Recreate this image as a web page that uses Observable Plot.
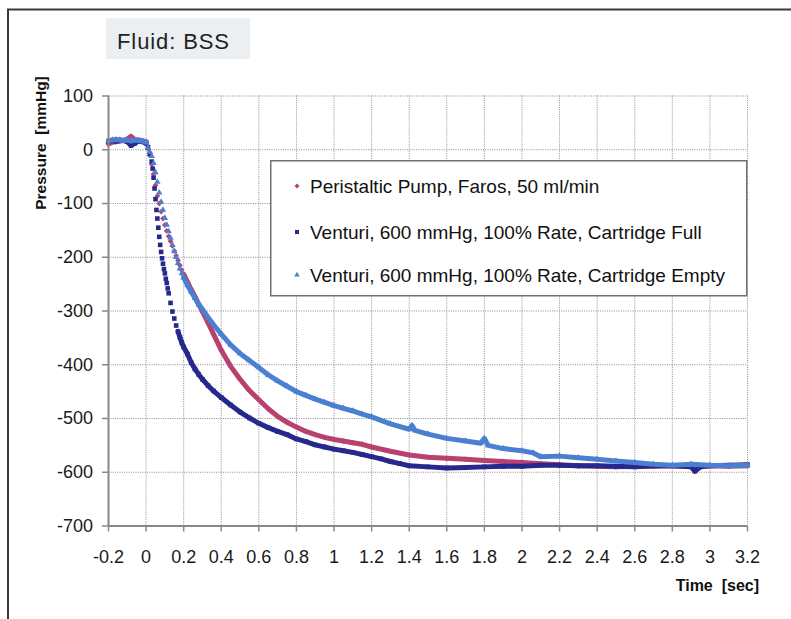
<!DOCTYPE html>
<html><head><meta charset="utf-8">
<script src="https://cdn.jsdelivr.net/npm/d3@7"></script>
<script src="https://cdn.jsdelivr.net/npm/@observablehq/plot@0.6"></script>
<style>
body{margin:0;background:#fff}
#wrap{position:relative;width:791px;height:619px;overflow:hidden;font-family:"Liberation Sans",Arial,sans-serif}
#wrap svg{position:absolute;left:0;top:0}
</style>
</head><body><div id="wrap"></div>
<script>
const xTicks = [-0.2,0,0.2,0.4,0.6,0.8,1,1.2,1.4,1.6,1.8,2,2.2,2.4,2.6,2.8,3,3.2];
const yTicks = [100,0,-100,-200,-300,-400,-500,-600,-700];
const titleText = "Fluid: BSS";
const xLabel = "Time  [sec]";
const yLabel = "Pressure  [mmHg]";
const seriesNames = ["Peristaltic Pump, Faros, 50 ml/min","Venturi, 600 mmHg, 100% Rate, Cartridge Full","Venturi, 600 mmHg, 100% Rate, Cartridge Empty"];

const periT = [-0.2,-0.18,-0.16,-0.14,-0.12,-0.1,-0.08,-0.06,-0.04,-0.02,0,0.01,0.02,0.03,0.04,0.05,0.06,0.07,0.08,0.09,0.1,0.11,0.12,0.13,0.14,0.15,0.16,0.17,0.18,0.19,0.2,0.22,0.24,0.26,0.28,0.3,0.33,0.36,0.4,0.45,0.5,0.55,0.6,0.65,0.7,0.75,0.8,0.85,0.9,0.95,1,1.05,1.1,1.15,1.2,1.3,1.4,1.5,1.6,1.7,1.8,1.9,2,2.1,2.2,2.3,2.4,2.5,2.6,2.7,2.8,2.9,3,3.1,3.2];
const periP = [11,14,15,16,17,20,25,19,18,17,15,2,-10,-27,-45,-66,-86,-100,-115,-128,-140,-151,-161,-170,-179,-188,-197,-206,-215,-224,-232,-246,-260,-273,-287,-301,-322,-344,-373,-403,-427,-448,-465,-482,-496,-507,-516,-524,-530,-535,-539,-542,-545,-548,-553,-561,-568,-572,-574,-576,-578,-580,-582,-584,-586,-588,-589,-590,-589,-589,-588,-589,-588,-589,-588];

const fullT = [-0.2,-0.18,-0.16,-0.14,-0.12,-0.1,-0.08,-0.06,-0.04,-0.02,0,0.01,0.02,0.03,0.035,0.04,0.045,0.05,0.055,0.06,0.065,0.07,0.075,0.08,0.085,0.09,0.095,0.1,0.105,0.11,0.115,0.12,0.13,0.14,0.15,0.16,0.17,0.18,0.19,0.2,0.22,0.24,0.26,0.28,0.3,0.33,0.36,0.4,0.45,0.5,0.55,0.6,0.65,0.7,0.75,0.8,0.85,0.9,0.95,1,1.05,1.1,1.15,1.2,1.25,1.3,1.35,1.4,1.5,1.6,1.7,1.8,1.9,2,2.1,2.2,2.3,2.4,2.5,2.6,2.7,2.8,2.9,2.92,2.95,3,3.1,3.2];
const fullP = [16,17,16,18,17,15,8,12,16,15,12,5,-8,-22,-35,-52,-72,-92,-112,-128,-145,-162,-177,-190,-202,-212,-222,-230,-240,-248,-258,-267,-285,-301,-314,-327,-338,-349,-359,-367,-380,-396,-408,-418,-427,-439,-449,-461,-475,-488,-499,-509,-517,-524,-530,-538,-543,-549,-553,-557,-560,-563,-567,-571,-575,-580,-584,-588,-590,-592,-591,-590,-589,-589,-587,-587,-588,-588,-589,-590,-588,-588,-590,-598,-590,-588,-587,-586];

const emptyT = [-0.2,-0.18,-0.16,-0.14,-0.12,-0.1,-0.08,-0.06,-0.04,-0.02,0,0.01,0.02,0.03,0.04,0.05,0.06,0.07,0.08,0.09,0.1,0.11,0.12,0.13,0.14,0.15,0.16,0.17,0.18,0.19,0.2,0.22,0.24,0.26,0.28,0.3,0.33,0.36,0.4,0.45,0.5,0.55,0.6,0.65,0.7,0.75,0.8,0.85,0.9,0.95,1,1.05,1.1,1.15,1.2,1.3,1.4,1.415,1.43,1.5,1.6,1.7,1.78,1.8,1.82,1.9,2,2.06,2.1,2.2,2.3,2.4,2.5,2.6,2.7,2.8,2.9,3,3.1,3.2];
const emptyP = [17,18,19,18,17,18,16,18,17,16,14,4,-4,-12,-25,-42,-60,-80,-97,-112,-127,-140,-152,-164,-177,-189,-200,-211,-221,-230,-238,-252,-264,-276,-288,-297,-312,-326,-343,-363,-379,-392,-405,-419,-430,-440,-450,-457,-464,-470,-476,-481,-486,-492,-497,-510,-520,-513,-522,-529,-537,-542,-546,-537,-550,-556,-560,-564,-571,-570,-573,-576,-579,-582,-585,-587,-585,-587,-588,-587];

const series = [
  {name: seriesNames[0], t: periT, p: periP, color: "#b9416f", symbol: "diamond2", r: 2.6, lineFrom: 0.2},
  {name: seriesNames[1], t: fullT, p: fullP, color: "#27288c", symbol: "square", r: 2.6, lineFrom: 0.17},
  {name: seriesNames[2], t: emptyT, p: emptyP, color: "#4b7fd1", symbol: "triangle", r: 2.4, lineFrom: 0.2}
];

const rowsOf = s => s.t.map((t, i) => ({t, p: s.p[i], seg: t <= 0.005 ? "a" : (t >= s.lineFrom ? "b" : null)}));

const seriesMarks = series.flatMap(s => {
  const rows = rowsOf(s);
  return [
    Plot.line(rows.filter(d => d.seg), {x: "t", y: "p", z: "seg", stroke: s.color, strokeWidth: 5, strokeLinejoin: "round"}),
    Plot.dot(rows, {x: "t", y: "p", symbol: s.symbol, fill: s.color, stroke: "none", r: s.r})
  ];
});

const gridStyle = {stroke: "#8c8c8c", strokeOpacity: 1, strokeWidth: 1, strokeDasharray: "1,1.3"};

const chart = Plot.plot({
  width: 791, height: 619,
  marginLeft: 108, marginRight: 44, marginTop: 95.5, marginBottom: 93.5,
  style: {fontFamily: "'Liberation Sans', Arial, sans-serif", background: "transparent"},
  x: {domain: [-0.2, 3.2]},
  y: {domain: [-700, 100]},
  marks: [
    Plot.gridX(xTicks, gridStyle),
    Plot.gridY(yTicks, gridStyle),
    ...seriesMarks,
    Plot.ruleX([-0.2], {stroke: "#888", strokeWidth: 2}),
    Plot.ruleY([-700], {stroke: "#888", strokeWidth: 2}),
    Plot.axisX(xTicks, {tickSize: 6, tickPadding: 18, tickFormat: d => String(d), label: null, stroke: "#888", strokeWidth: 1.5, fill: "#1a1a1a", fontSize: 18}),
    Plot.axisY(yTicks, {tickSize: 6, tickPadding: 9.5, tickFormat: d => String(d), label: null, stroke: "#888", strokeWidth: 1.5, fill: "#1a1a1a", fontSize: 18})
  ]
});

const wrap = document.getElementById("wrap");
wrap.appendChild(chart);

const ov = d3.select(wrap).append("svg").attr("width", 791).attr("height", 619)
  .style("font-family", "'Liberation Sans', Arial, sans-serif");

// outer frame
ov.append("line").attr("x1", 8).attr("x2", 8).attr("y1", 9).attr("y2", 619).attr("stroke", "#3a3a3a").attr("stroke-width", 2);
ov.append("line").attr("x1", 7).attr("x2", 791).attr("y1", 9.5).attr("y2", 9.5).attr("stroke", "#3a3a3a").attr("stroke-width", 2);

// title box
ov.append("rect").attr("x", 106).attr("y", 18).attr("width", 144).attr("height", 41).attr("fill", "#eceff1");
ov.append("text").attr("x", 117).attr("y", 48.5).attr("font-size", 22).attr("letter-spacing", 0.9).attr("fill", "#222").text(titleText);

// axis titles
ov.append("text").attr("x", 759).attr("y", 591).attr("text-anchor", "end").attr("font-size", 16).attr("font-weight", "bold")
  .attr("fill", "#111").style("white-space", "pre").text(xLabel);
ov.append("text").attr("transform", "translate(46,143) rotate(-90)").attr("text-anchor", "middle").attr("font-size", 15.5)
  .attr("font-weight", "bold").attr("fill", "#111").style("white-space", "pre").text(yLabel);

// legend
ov.append("rect").attr("x", 270.75).attr("y", 160.75).attr("width", 476).attr("height", 135)
  .attr("fill", "#fff").attr("stroke", "#707070").attr("stroke-width", 1.5);
const legendY = [193, 239, 282];
const symMap = {diamond2: d3.symbolDiamond2, square: d3.symbolSquare, triangle: d3.symbolTriangle};
series.forEach((s, i) => {
  ov.append("path").attr("d", d3.symbol(symMap[s.symbol], Math.PI * s.r * s.r * 0.75)())
    .attr("transform", `translate(297,${legendY[i] - 7})`).attr("fill", s.color);
  ov.append("text").attr("x", 310).attr("y", legendY[i]).attr("font-size", 19).attr("fill", "#111").text(s.name);
});
</script>
</body></html>
